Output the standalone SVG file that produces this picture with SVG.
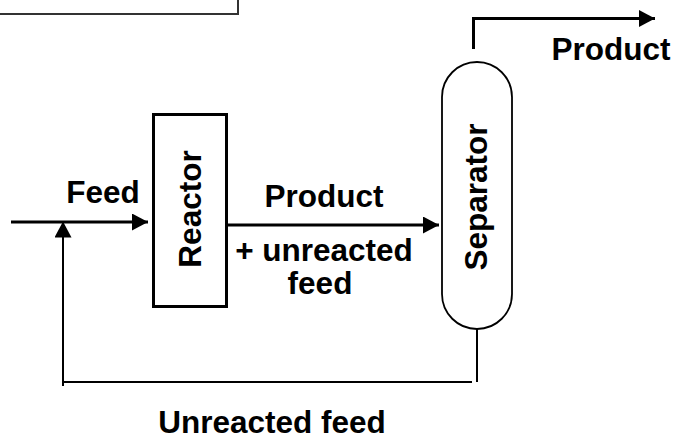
<svg xmlns="http://www.w3.org/2000/svg" width="676" height="441" viewBox="0 0 676 441">
<style>
.t{font-family:"Liberation Sans",Arial,sans-serif;font-weight:bold;font-size:31.5px;fill:#000}
.thick{fill:none;stroke:#000;stroke-width:3}
.thin{fill:none;stroke:#000;stroke-width:2}
</style>
<defs>
<marker id="ah" markerUnits="userSpaceOnUse" markerWidth="16" markerHeight="18" refX="16" refY="8.5" orient="auto">
<path d="M0,0 L16,8.5 L0,17 Z" fill="#000"/>
</marker>
</defs>
<rect width="676" height="441" fill="#fff"/>
<g id="topbox">
<path d="M0,14 H238 V0" fill="none" stroke="#333" stroke-width="2"/>
</g>
<g id="reactor">
<rect x="153.5" y="114.5" width="73" height="192" class="thick" fill="#fff"/>
<text class="t" transform="translate(201,209) rotate(-90)" text-anchor="middle">Reactor</text>
</g>
<g id="separator">
<rect x="442" y="62" width="70" height="267" rx="35" ry="35" fill="none" stroke="#000" stroke-width="1.8"/>
<text class="t" transform="translate(487,197) rotate(-90)" text-anchor="middle">Separator</text>
</g>
<g id="connectors">
<line x1="11" y1="222" x2="148" y2="222" class="thick" marker-end="url(#ah)"/>
<line x1="226.5" y1="225" x2="439" y2="225" class="thick" marker-end="url(#ah)"/>
<path d="M473.5,49 V18.5 H655" class="thick" marker-end="url(#ah)"/>
<path d="M477,329 V382" class="thin"/>
<path d="M472,382 H63 V386" class="thin"/>
<line x1="63" y1="383" x2="63" y2="221.5" class="thin" marker-end="url(#ah)"/>
</g>
<g id="labels">
<text class="t" x="103" y="203" text-anchor="middle">Feed</text>
<text class="t" x="324" y="207" text-anchor="middle">Product</text>
<text class="t" x="324" y="261" text-anchor="middle">+ unreacted</text>
<text class="t" x="320" y="294" text-anchor="middle">feed</text>
<text class="t" x="611" y="60" text-anchor="middle">Product</text>
<text class="t" x="272" y="433" text-anchor="middle">Unreacted feed</text>
</g>
</svg>
